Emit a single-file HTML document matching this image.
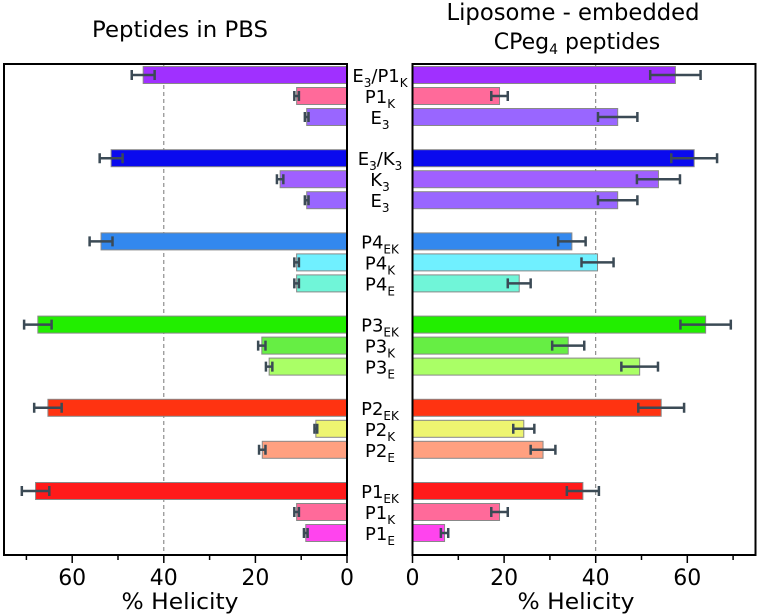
<!DOCTYPE html>
<html><head><meta charset="utf-8"><style>
html,body{margin:0;padding:0;background:#fff;}
svg{display:block;font-family:"DejaVu Sans","Liberation Sans",sans-serif;}
</style></head><body>
<svg id="chart" width="760" height="615" viewBox="0 0 760 615" xmlns="http://www.w3.org/2000/svg">
<text x="180" y="37" font-size="22" text-anchor="middle" textLength="176" lengthAdjust="spacingAndGlyphs">Peptides in PBS</text>
<text x="573" y="20" font-size="23" text-anchor="middle" textLength="253" lengthAdjust="spacingAndGlyphs">Liposome - embedded</text>
<text x="577" y="49" font-size="22" text-anchor="middle">CPeg<tspan font-size="14" dy="5">4</tspan><tspan dy="-5"> peptides</tspan></text>
<g id="plot"></g>
<text x="180" y="609" font-size="22" text-anchor="middle" textLength="117" lengthAdjust="spacingAndGlyphs">% Helicity</text>
<text x="576" y="609" font-size="22" text-anchor="middle" textLength="117" lengthAdjust="spacingAndGlyphs">% Helicity</text>
</svg>
<script>
const labels = ["E{3}/P1{K}","P1{K}","E{3}","E{3}/K{3}","K{3}","E{3}","P4{EK}","P4{K}","P4{E}","P3{EK}","P3{K}","P3{E}","P2{EK}","P2{K}","P2{E}","P1{EK}","P1{K}","P1{E}"];
const pbsValues = [44.5,11,8.8,51.5,14.6,8.8,53.7,11,11,67.5,18.6,17,65.3,6.8,18.5,68,11,9];
const pbsErrors = [2.5,0.5,0.4,2.5,0.7,0.4,2.5,0.5,0.5,3,0.8,0.7,3,0.3,0.7,3,0.5,0.4];
const lipValues = [57.4,19,44.8,61.5,53.7,44.8,34.8,40.4,23.3,64,34,49.6,54.3,24.3,28.5,37.2,19,7];
const lipErrors = [5.5,1.8,4.3,5,4.7,4.3,3,3.5,2.5,5.5,3.5,4,5,2.3,2.7,3.5,1.8,0.8];
const barColors = ["#a030ff","#ff6a9a","#9966ff","#0a0aee","#a060ff","#9966ff","#3388ee","#70f0ff","#70f5d8","#22ee00","#66ee44","#aaff66","#ff3311","#eef570","#ffa080","#ff1a1a","#ff6a9a","#ff44ee"];
const tickValues = [0,20,40,60];

const NS="http://www.w3.org/2000/svg";
const plot=document.getElementById('plot');
function el(t,a){const e=document.createElementNS(NS,t);for(const k in a)e.setAttribute(k,a[k]);plot.appendChild(e);return e;}
const yTop=64,yBottom=555,scale=4.58;
const xL=v=>347-v*scale, xR=v=>412.5+v*scale;
function yRow(i){const grp=Math.floor(i/3),k=i%3;return 75+grp*83.2+k*21;}
const bh=17;

let d=el('line',{x1:xL(40),x2:xL(40),y1:yTop,y2:yBottom,stroke:'#777','stroke-dasharray':'4,3','stroke-width':1});


d=el('line',{x1:xR(40),x2:xR(40),y1:yTop,y2:yBottom,stroke:'#777','stroke-dasharray':'4,3','stroke-width':1});



for(let i=0;i<labels.length;i++){
  const y=yRow(i);
  let v=pbsValues[i],e=pbsErrors[i];
  let r=el('rect',{x:xL(v),y:y-bh/2,width:v*scale,height:bh,fill:barColors[i],stroke:'#888','stroke-width':1});
  
  
  let eb=el('path',{d:`M${xL(v-e)},${y}H${xL(v+e)}M${xL(v-e)},${y-5}V${y+5}M${xL(v+e)},${y-5}V${y+5}`,stroke:'#3b4a55','stroke-width':2.5,fill:'none'});
  
  
  v=lipValues[i];e=lipErrors[i];
  r=el('rect',{x:xR(0),y:y-bh/2,width:v*scale,height:bh,fill:barColors[i],stroke:'#888','stroke-width':1});
  
  
  eb=el('path',{d:`M${xR(v-e)},${y}H${xR(v+e)}M${xR(v-e)},${y-5}V${y+5}M${xR(v+e)},${y-5}V${y+5}`,stroke:'#3b4a55','stroke-width':2.5,fill:'none'});
  
  
  const t=el('text',{x:380,y:y+7,'font-size':18,'text-anchor':'middle'});
  
  
  const segs=labels[i].split(/(\{[^}]*\})/).filter(s=>s.length);
  let sub=false;
  segs.forEach(s=>{
    const ts=document.createElementNS(NS,'tspan');
    if(s[0]==='{'){ts.textContent=s.slice(1,-1);ts.setAttribute('font-size','12');if(!sub){ts.setAttribute('dy','5');}sub=true;}
    else{ts.textContent=s;if(sub){ts.setAttribute('dy','-5');}sub=false;}
    t.appendChild(ts);
  });
}

let bx=el('rect',{x:4,y:yTop,width:343,height:yBottom-yTop,fill:'none',stroke:'#000','stroke-width':2});


bx=el('rect',{x:412.5,y:yTop,width:343,height:yBottom-yTop,fill:'none',stroke:'#000','stroke-width':2});



for(let v=0;v<=70;v+=10){
  const len=v%20===0?8:5;
  let tk=el('line',{x1:xL(v),x2:xL(v),y1:yBottom,y2:yBottom+len,stroke:'#000','stroke-width':1.5});
  
  
  tk=el('line',{x1:xR(v),x2:xR(v),y1:yBottom,y2:yBottom+len,stroke:'#000','stroke-width':1.5});
  
  
}
tickValues.forEach(v=>{
  let t=el('text',{x:xL(v),y:585,'font-size':22,'text-anchor':'middle'});t.textContent=v;
  
  
  t=el('text',{x:xR(v),y:585,'font-size':22,'text-anchor':'middle'});t.textContent=v;
  
  
});
</script>
</body></html>
